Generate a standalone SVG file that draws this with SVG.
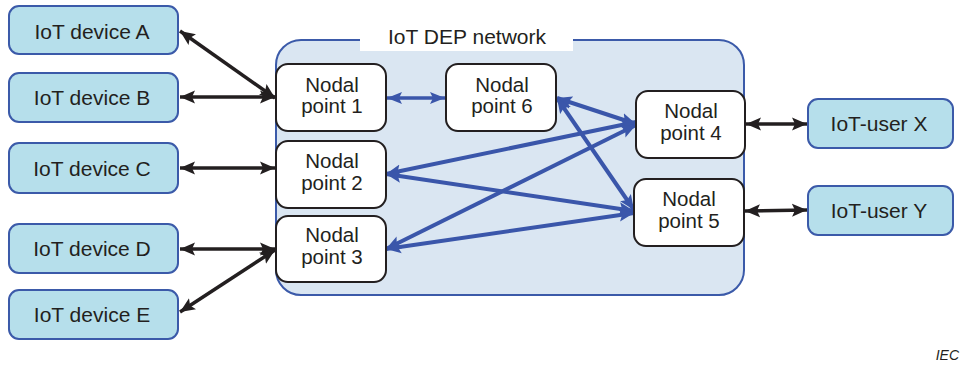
<svg xmlns="http://www.w3.org/2000/svg" width="961" height="367" viewBox="0 0 961 367">
<style>
text{font-family:"Liberation Sans",Arial,sans-serif;fill:#231f20;text-anchor:middle}
.dev{fill:#b6dfeb;stroke:#3b5aa9;stroke-width:2}
.np{fill:#fff;stroke:#231f20;stroke-width:2}
.t21{font-size:21px}
.t20{font-size:20.5px}
.bk{stroke:#231f20;stroke-width:3.5;fill:none;marker-start:url(#ab);marker-end:url(#ab)}
.bl{stroke:#3a56aa;stroke-width:4;fill:none;marker-start:url(#au);marker-end:url(#au)}
.bl3{stroke:#3a56aa;stroke-width:3.5;fill:none;marker-start:url(#au2);marker-end:url(#au2)}
</style>
<defs>
<marker id="ab" markerUnits="userSpaceOnUse" markerWidth="16" markerHeight="14" refX="15" refY="7" orient="auto-start-reverse" viewBox="0 0 16 14"><path d="M0,0.5 L15,7 L0,13.5 L3,7 z" fill="#231f20"/></marker>
<marker id="au" markerUnits="userSpaceOnUse" markerWidth="16" markerHeight="14" refX="15" refY="7" orient="auto-start-reverse" viewBox="0 0 16 14"><path d="M0,0.5 L15,7 L0,13.5 L3,7 z" fill="#3a56aa"/></marker>
<marker id="au2" markerUnits="userSpaceOnUse" markerWidth="16" markerHeight="14" refX="15" refY="7" orient="auto-start-reverse" viewBox="0 0 16 14"><path d="M0,1 L15,7 L0,13 L3,7 z" fill="#3a56aa"/></marker>
</defs>
<rect width="961" height="367" fill="#fff"/>
<g id="network">
<rect x="276" y="40" width="468" height="255" rx="25" fill="#dae6f2" stroke="#3b5aa9" stroke-width="2"/>
<rect x="360" y="26" width="213" height="25" fill="#fff"/>
<text class="t21" x="467" y="44">IoT DEP network</text>
</g>
<g id="connectors">
<line class="bk" x1="180" y1="31" x2="275" y2="98"/>
<line class="bk" x1="180" y1="97" x2="275" y2="97"/>
<line class="bk" x1="180" y1="168" x2="275" y2="168"/>
<line class="bk" x1="180" y1="249" x2="275" y2="249"/>
<line class="bk" x1="180" y1="312" x2="275" y2="250"/>
<line class="bk" x1="746" y1="124" x2="807" y2="124"/>
<line class="bk" x1="745" y1="211" x2="807" y2="210"/>
<line class="bl3" x1="387" y1="98" x2="445" y2="98"/>
<line class="bl" x1="557" y1="98" x2="636" y2="124"/>
<line class="bl" x1="557" y1="98" x2="634" y2="210"/>
<line class="bl" x1="386" y1="174" x2="636" y2="122"/>
<line class="bl" x1="386" y1="174" x2="634" y2="211"/>
<line class="bl" x1="386" y1="249" x2="636" y2="125"/>
<line class="bl" x1="386" y1="249" x2="634" y2="213"/>
</g>
<g id="devA"><rect class="dev" x="9" y="6" width="169" height="48" rx="10"/><text class="t21" x="92" y="38.5">IoT device A</text></g>
<g id="devB"><rect class="dev" x="9" y="73" width="169" height="49" rx="10"/><text class="t21" x="92" y="105">IoT device B</text></g>
<g id="devC"><rect class="dev" x="9" y="143" width="169" height="50" rx="10"/><text class="t21" x="92" y="175.5">IoT device C</text></g>
<g id="devD"><rect class="dev" x="9" y="224" width="169" height="49" rx="10"/><text class="t21" x="92" y="256">IoT device D</text></g>
<g id="devE"><rect class="dev" x="9" y="290" width="169" height="49" rx="10"/><text class="t21" x="92" y="322">IoT device E</text></g>
<g id="userX"><rect class="dev" x="808" y="99" width="145" height="49" rx="10"/><text class="t21" x="879" y="131">IoT-user X</text></g>
<g id="userY"><rect class="dev" x="808" y="186" width="145" height="49" rx="10"/><text class="t21" x="879" y="218">IoT-user Y</text></g>
<g id="np1"><rect class="np" x="276" y="64" width="110" height="67" rx="12"/><text class="t20" x="332" y="91.5">Nodal</text><text class="t20" x="332" y="113">point 1</text></g>
<g id="np6"><rect class="np" x="446" y="64" width="110" height="67" rx="12"/><text class="t20" x="502" y="91.5">Nodal</text><text class="t20" x="502" y="113">point 6</text></g>
<g id="np2"><rect class="np" x="276" y="141" width="110" height="67" rx="12"/><text class="t20" x="332" y="167.5">Nodal</text><text class="t20" x="332" y="189.5">point 2</text></g>
<g id="np3"><rect class="np" x="276" y="216" width="110" height="66" rx="12"/><text class="t20" x="332" y="242">Nodal</text><text class="t20" x="332" y="264">point 3</text></g>
<g id="np4"><rect class="np" x="636" y="91" width="109" height="67" rx="12"/><text class="t20" x="691" y="118">Nodal</text><text class="t20" x="691" y="140">point 4</text></g>
<g id="np5"><rect class="np" x="634" y="179" width="110" height="67" rx="12"/><text class="t20" x="689" y="206">Nodal</text><text class="t20" x="689" y="228">point 5</text></g>
<text x="959" y="360" style="font-size:14px;font-style:italic;text-anchor:end">IEC</text>
</svg>
